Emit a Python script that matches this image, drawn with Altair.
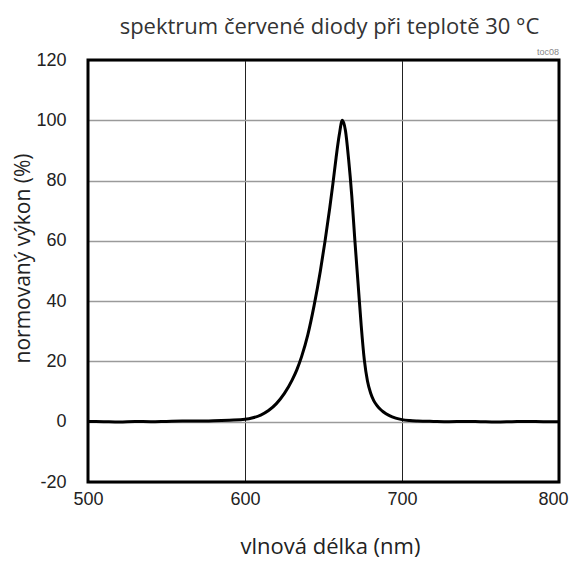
import altair as alt
import pandas as pd

wavelength = [500, 510, 520, 530, 540, 550, 560, 570, 580, 590, 600, 605, 610, 615, 620, 625,
              630, 633, 636, 640, 644, 648, 651, 654, 656, 658, 660, 662, 664, 666, 668, 670,
              672, 674, 676, 678, 680, 682, 684, 686, 688, 692, 696, 700, 705, 710, 720, 730,
              740, 750, 760, 770, 780, 790, 800]
power = [0.1, 0.0, -0.1, 0.1, 0.0, 0.1, 0.2, 0.2, 0.3, 0.5, 0.8, 1.3, 2.2, 3.7, 6.0, 9.3,
         13.8, 17.2, 21.5, 28.8, 38.5, 50, 60, 71, 79, 87.5, 95, 100, 96.5, 87, 75, 60,
         46, 32, 20.5, 13.5, 9.5, 7.0, 5.4, 4.2, 3.3, 2.0, 1.2, 0.7, 0.4, 0.25, 0.1, 0.0,
         0.1, 0.0, -0.1, 0.0, 0.1, 0.0, 0.0]
x_ticks = [500, 600, 700, 800]
y_ticks = [-20, 0, 20, 40, 60, 80, 100, 120]

df = pd.DataFrame({"wl": wavelength, "p": power})

xs = alt.Scale(domain=[500, 800], nice=False, zero=False)
ys = alt.Scale(domain=[-20, 120], nice=False)

line = alt.Chart(df).mark_line(color="black", strokeWidth=3, interpolate="monotone").encode(
    x=alt.X("wl:Q", scale=xs,
            axis=alt.Axis(values=x_ticks, title="vlnová délka (nm)", grid=True,
                          gridColor="#222222", gridWidth=1, domain=False, ticks=False,
                          labelFlush=False, labelPadding=8, labelFont="Liberation Sans",
                          labelFontSize=18, labelColor="#222222",
                          labelExpr="datum.value + ''",
                          labelOffset=alt.condition("datum.value == 800", alt.value(-6), alt.value(0)),
                          titleFont="Open Sans", titleFontSize=22,
                          titleFontWeight="normal", titleColor="#222222", titleY=54,
                          titleX=242, titleBaseline="top")),
    y=alt.Y("p:Q", scale=ys,
            axis=alt.Axis(values=y_ticks, title="normovaný výkon (%)", grid=True,
                          gridColor="#9a9a9a", gridWidth=1.5, domain=False, ticks=False,
                          labelPadding=22, labelFont="Liberation Sans", labelFontSize=18,
                          labelColor="#222222", labelExpr="datum.value + ''",
                          titleFont="Open Sans", titleFontSize=21,
                          titleFontWeight="normal", titleColor="#222222", titleX=-65,
                          titleY=198, titleBaseline="middle")),
)

border = alt.Chart(pd.DataFrame({"x0": [500], "x1": [800], "y0": [-20], "y1": [120]})).mark_rect(
    filled=False, stroke="black", strokeWidth=3
).encode(x=alt.X("x0:Q", scale=xs), x2="x1:Q", y=alt.Y("y0:Q", scale=ys), y2="y1:Q")

note = alt.Chart(pd.DataFrame({"x": [800], "y": [120], "t": ["toc08"]})).mark_text(
    align="right", baseline="bottom", dy=-3, fontSize=9, color="#888888", font="Liberation Sans"
).encode(x=alt.X("x:Q", scale=xs), y=alt.Y("y:Q", scale=ys), text="t:N")

chart = alt.layer(line, border, note).properties(
    width=471, height=422,
    title=alt.TitleParams("spektrum červené diody při teplotě 30 °C", font="Open Sans",
                          fontSize=22, fontWeight="normal", color="#333333", anchor="middle",
                          dx=6, offset=9),
    autosize=alt.AutoSizeParams(type="none"),
    padding={"left": 80, "top": 52, "right": 10, "bottom": 78},
).configure_view(stroke=None)

chart.save("out.html", embed_options={"renderer": "svg", "actions": False})
